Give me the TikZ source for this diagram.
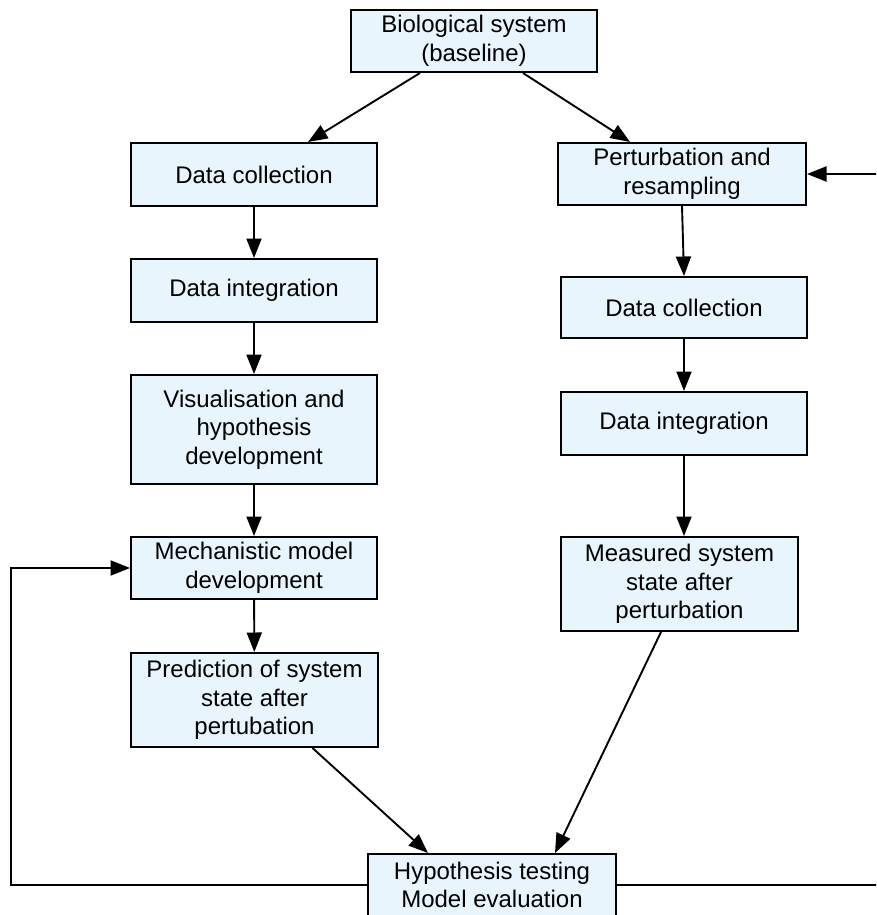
\documentclass[tikz,border=0pt]{standalone}
\usepackage{fontspec}
\setmainfont{Liberation Sans}
\usetikzlibrary{arrows.meta}
\definecolor{boxfill}{RGB}{232,245,253}
\tikzset{
  stage/.style={draw=black, line width=2pt, fill=boxfill, inner sep=0pt,
    align=center, font=\fontsize{24}{28.5}\selectfont},
  flow/.style={line width=1.9pt, -{Triangle[length=19.5pt,width=15pt]}}
}
\begin{document}
\begin{tikzpicture}[x=1pt, y=-1pt]
\useasboundingbox (0,0) rectangle (876,915);
\clip (0,0) rectangle (876,915);

% top of the workflow
\node[stage, minimum width=246pt, minimum height=62pt] (bio) at (474,41) {Biological system\\(baseline)};

% modelling branch
\node[stage, minimum width=246pt, minimum height=63pt] (dcL) at (254,174.5) {Data collection};
\node[stage, minimum width=246pt, minimum height=63pt] (diL) at (254,290.5) {Data integration};
\node[stage, minimum width=246pt, minimum height=109pt] (vis) at (254,429.5) {Visualisation and\\hypothesis\\development};
\node[stage, minimum width=246pt, minimum height=62pt] (mech) at (254,568) {Mechanistic model\\development};
\node[stage, minimum width=247pt, minimum height=94pt] (pred) at (254.5,700) {Prediction of system\\state after\\pertubation};

% experimental branch
\node[stage, minimum width=248pt, minimum height=62pt] (pert) at (682,174) {Perturbation and\\resampling};
\node[stage, minimum width=246pt, minimum height=61pt] (dcR) at (684,307.5) {Data collection};
\node[stage, minimum width=246pt, minimum height=63pt] (diR) at (684,423.5) {Data integration};
\node[stage, minimum width=237pt, minimum height=94pt] (meas) at (679.5,584) {Measured system\\state after\\perturbation};

% evaluation
\node[stage, minimum width=248pt, minimum height=62pt] (eval) at (492,885) {Hypothesis testing\\Model evaluation};

% connectors
\draw[flow] ([xshift=-54pt]bio.south) -- ([xshift=54pt]dcL.north);
\draw[flow] ([xshift=49pt]bio.south) -- ([xshift=-52pt]pert.north);

\draw[flow] (dcL) -- (diL);
\draw[flow] (diL) -- (vis);
\draw[flow] (vis) -- (mech);
\draw[flow] (mech) -- (pred);

\draw[flow] (pert.south) -- (dcR.north);
\draw[flow] (dcR) -- (diR);
\draw[flow] (diR.south) -- ([xshift=4.5pt]meas.north);

\draw[flow] ([xshift=58pt]pred.south) -- ([xshift=-64pt]eval.north);
\draw[flow] ([xshift=-18.5pt]meas.south) -- ([xshift=63pt]eval.north);

% feedback loops
\draw[flow] (eval.west) -| ([xshift=-119pt]mech.west) -- (mech.west);
\draw[flow] (eval.east) -| ([xshift=76pt]pert.east) -- (pert.east);
\end{tikzpicture}
\end{document}
